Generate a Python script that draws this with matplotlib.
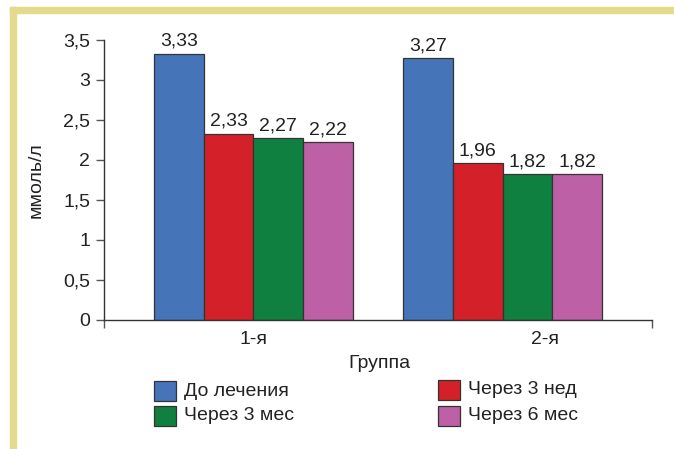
import matplotlib
matplotlib.use("Agg")
import matplotlib.pyplot as plt
from matplotlib.patches import Rectangle
from matplotlib.font_manager import fontManager

groups = ["1-я", "2-я"]
series_names = ["До лечения", "Через 3 нед", "Через 3 мес", "Через 6 мес"]
values = {
    "До лечения": [3.33, 3.27],
    "Через 3 нед": [2.33, 1.96],
    "Через 3 мес": [2.27, 1.82],
    "Через 6 мес": [2.22, 1.82],
}
colors = ["#4574b9", "#d42129", "#108040", "#bd60a5"]
y_ticks = [0, 0.5, 1, 1.5, 2, 2.5, 3, 3.5]

names = {f.name for f in fontManager.ttflist}
family = "Liberation Sans Narrow" if "Liberation Sans Narrow" in names else "Liberation Sans"
plt.rcParams["font.family"] = [family, "DejaVu Sans"]

def comma(v):
    s = f"{v:g}"
    return s.replace(".", ",")

fig = plt.figure(figsize=(6.74, 4.49), dpi=100)

# decorative frame lines along top and left
frame_col = "#e3da8d"
fig.patches.append(Rectangle((10/674, 0), 6/674, 1 - 7/449, transform=fig.transFigure,
                             color=frame_col, zorder=0))
fig.patches.append(Rectangle((10/674, 1 - 13/449), 1, 6/449, transform=fig.transFigure,
                             color=frame_col, zorder=0))

ax = fig.add_axes([104/674, 1 - 320/449, 548/674, 280/449])

w = 0.2
edge = "#333333"
fs = 14
tc = "#222222"
for i, name in enumerate(series_names):
    for g, v in enumerate(values[name]):
        x = g + (i - 1.5) * w
        ax.bar(x, v, width=w, color=colors[i], edgecolor=edge, linewidth=0.9, zorder=2)
        ax.text(x, v + 0.05, comma(v), ha="center", va="bottom", fontsize=fs, color=tc)

ax.set_xlim(-0.6, 1.6)
ax.set_ylim(0, 3.5)
ax.set_yticks(y_ticks)
ax.set_yticklabels([comma(t) for t in y_ticks], fontsize=fs, color=tc)
ax.tick_params(axis="y", direction="out", length=6, width=1, color="#555555", pad=4)

# end ticks on the category axis, labels placed under each group
ax.set_xticks([-0.6, 1.6])
ax.set_xticklabels(["", ""])
ax.tick_params(axis="x", direction="out", length=6, width=1, color="#555555")
label_pos = [0.0, 1.17]
for p, g in zip(label_pos, groups):
    ax.text(p, -0.25, g, ha="center", va="center", fontsize=fs, color=tc,
            transform=ax.transData, clip_on=False)

for s in ["top", "right"]:
    ax.spines[s].set_visible(False)
for s in ["left", "bottom"]:
    ax.spines[s].set_color("#333333")
    ax.spines[s].set_linewidth(1)

fig.text(379/674, 1 - 363/449, "Группа", ha="center", va="center", fontsize=fs, color=tc)
fig.text(36/674, 1 - 180/449, "ммоль/л", ha="center", va="center", rotation=90,
         fontsize=fs, color=tc)

# legend in two columns
legend_rows = [(154, 391), (154, 416), (438, 390), (438, 416)]
order = [0, 2, 1, 3]
for (lx, ly), idx in zip(legend_rows, order):
    fig.patches.append(Rectangle((lx/674, 1 - (ly + 10)/449), 22/674, 20/449,
                                 transform=fig.transFigure, facecolor=colors[idx],
                                 edgecolor=edge, linewidth=0.9))
    fig.text((lx + 30)/674, 1 - ly/449, series_names[idx], ha="left", va="center",
             fontsize=fs, color=tc)

fig.savefig("out.png", dpi=100, facecolor="white")
